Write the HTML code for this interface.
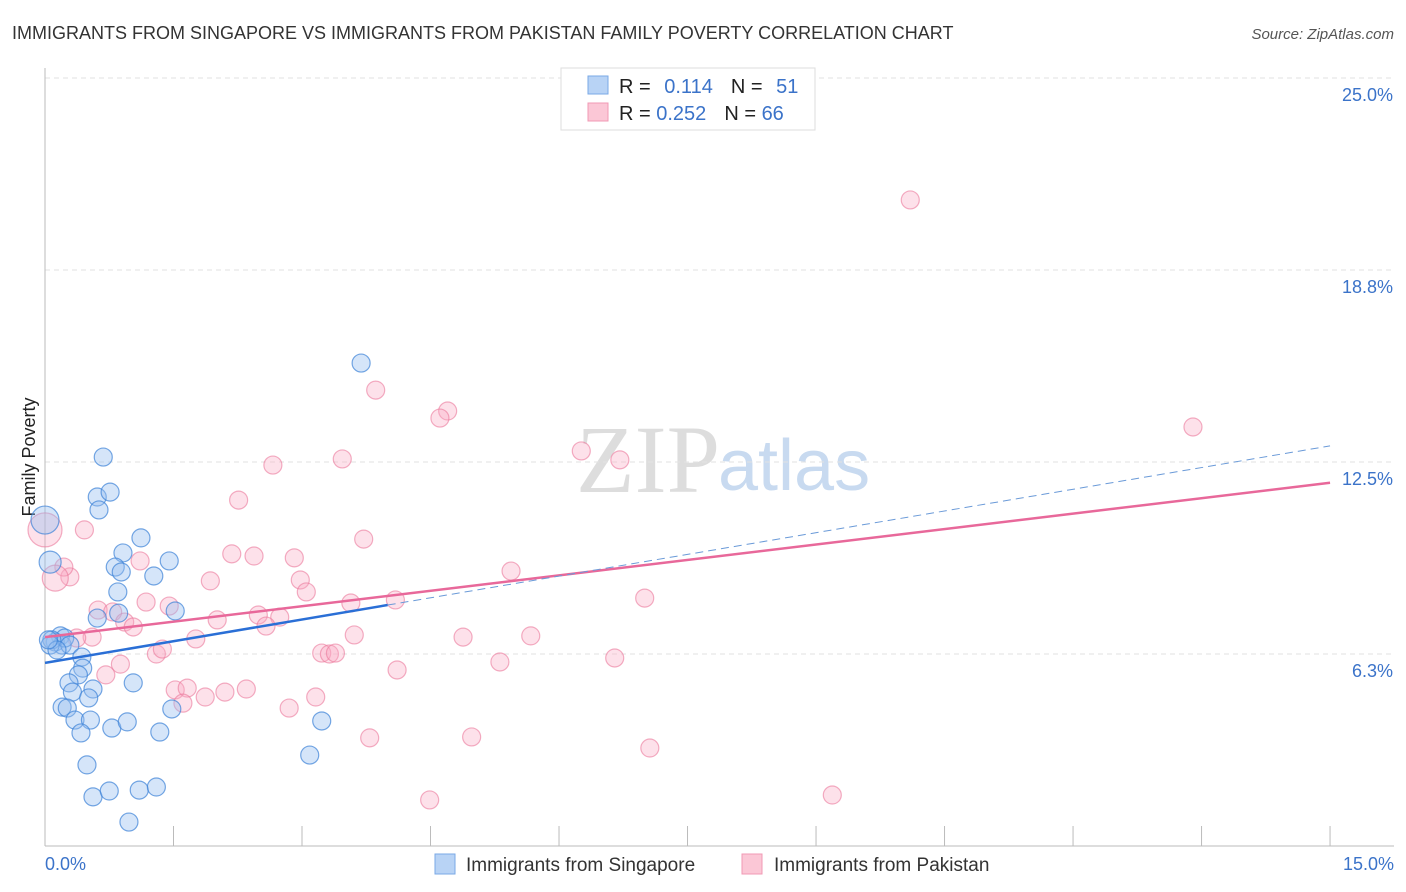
<!DOCTYPE html>
<html><head><meta charset="utf-8"><style>
body{margin:0;background:#fff;font-family:"Liberation Sans",sans-serif;}
#wrap{position:relative;width:1406px;height:892px;overflow:hidden;}
</style></head><body>
<div id="wrap">
<svg id="svg" width="1406" height="892" xmlns="http://www.w3.org/2000/svg">
<text x="12" y="39" font-size="18" fill="#333">IMMIGRANTS FROM SINGAPORE VS IMMIGRANTS FROM PAKISTAN FAMILY POVERTY CORRELATION CHART</text>
<text x="1394" y="39" font-size="15" fill="#555" font-style="italic" text-anchor="end">Source: ZipAtlas.com</text>
<text x="35" y="457" font-size="18" fill="#222" text-anchor="middle" transform="rotate(-90 35 457)">Family Poverty</text>
<text x="720" y="492" font-size="96" fill="#ddd" text-anchor="end" font-family="Liberation Serif">ZIP</text>
<text x="718" y="490" font-size="72" fill="#c8daf0">atlas</text>
<g id="grid"></g><g id="pts"></g><g id="lines"></g>
<g>
<rect x="561" y="68" width="254" height="62" fill="#fff" stroke="#ddd"/>
<rect x="588" y="76" width="20" height="18" fill="#b8d3f5" stroke="#7aa8e6"/>
<rect x="588" y="103" width="20" height="18" fill="#fbc7d6" stroke="#f09ab4"/>
<text x="619" y="93" font-size="20" fill="#222">R = <tspan fill="#3b73c9" dx="8">0.114</tspan><tspan dx="18" fill="#222">N = </tspan><tspan dx="8" fill="#3b73c9">51</tspan></text>
<text x="619" y="120" font-size="20" fill="#222">R = <tspan fill="#3b73c9">0.252</tspan><tspan dx="18" fill="#222">N = </tspan><tspan fill="#3b73c9">66</tspan></text>
</g>
<g>
<rect x="435" y="854" width="20" height="20" fill="#b8d3f5" stroke="#7aa8e6"/>
<text x="466" y="871" font-size="19" fill="#333">Immigrants from Singapore</text>
<rect x="742" y="854" width="20" height="20" fill="#fbc7d6" stroke="#f09ab4"/>
<text x="774" y="871" font-size="19" fill="#333">Immigrants from Pakistan</text>
</g>
</svg>
</div>
<script>
const yTicks=[6.25,12.5,18.75,25];
const yTickLabels=["6.3%","12.5%","18.8%","25.0%"];
const xTickCount=10;
const xLabels=["0.0%","15.0%"];
const sgX=[0.68,0.61,0.76,0.63,1.12,0.91,0.82,0.89,1.27,1.45,0.85,0.86,0.61,1.52,0.06,0.0,0.18,0.12,0.20,0.23,0.08,0.29,0.43,0.44,0.39,0.28,0.56,0.32,1.03,0.20,0.26,0.51,0.35,0.53,0.78,0.42,0.96,1.34,1.48,3.23,3.09,0.49,0.56,0.75,1.10,1.30,0.98,3.69,0.06,0.14,0.04];
const sgY=[12.66,11.36,11.52,10.94,10.03,9.54,9.08,8.92,8.79,9.28,8.27,7.58,7.42,7.65,9.24,10.61,6.84,6.64,6.54,6.77,6.71,6.54,6.15,5.79,5.57,5.31,5.11,5.01,5.31,4.52,4.49,4.82,4.10,4.10,3.84,3.68,4.04,3.71,4.46,4.07,2.96,2.64,1.60,1.79,1.82,1.92,0.78,15.72,6.54,6.38,6.71];
const pkX=[10.10,13.40,3.86,4.70,4.61,6.26,6.71,3.47,2.66,2.26,3.72,0.46,0,2.18,2.44,2.91,5.44,0.29,0.22,0.12,1.93,2.98,3.05,1.11,1.18,1.45,7.00,4.09,3.57,0.62,0.79,0.93,1.03,2.01,2.49,2.74,2.58,0.55,0.37,1.76,3.61,4.88,5.67,1.30,1.37,3.23,3.32,3.39,5.31,6.65,0.88,0.71,4.11,1.52,1.66,1.87,2.10,2.35,1.61,3.16,2.85,3.79,4.98,7.06,4.49,9.19];
const pkY=[21.03,13.64,14.84,14.16,13.93,12.86,12.57,12.60,12.40,11.26,9.99,10.29,10.29,9.51,9.44,9.38,8.95,8.76,9.08,8.72,8.63,8.66,8.27,9.28,7.94,7.81,8.07,8.01,7.91,7.68,7.62,7.29,7.13,7.36,7.52,7.45,7.16,6.80,6.77,6.74,6.87,6.80,6.84,6.25,6.41,6.28,6.25,6.28,5.99,6.12,5.92,5.57,5.73,5.08,5.14,4.85,5.01,5.11,4.65,4.85,4.49,3.52,3.55,3.19,1.50,1.66];
const sgTrend=[5.96,0.471,4.0];
const pkTrend=[6.80,0.335];
const NS="http://www.w3.org/2000/svg";
const X=v=>45+v*85.67, Y=v=>846-v*30.72;
function mk(t,a,p){const e=document.createElementNS(NS,t);for(const k in a)e.setAttribute(k,a[k]);p.appendChild(e);return e;}
const grid=document.getElementById('grid'),pts=document.getElementById('pts'),lines=document.getElementById('lines');
yTicks.forEach((t,i)=>{
 const l=mk('line',{x1:45,x2:1394,y1:Y(t),y2:Y(t),stroke:'#e2e2e2','stroke-dasharray':'5,4'},grid);
 
 
 const tx=mk('text',{x:1393,y:Y(t)+23,'font-size':18,fill:'#3b73c9','text-anchor':'end'},grid);
 tx.textContent=yTickLabels[i];
 
 
});
const ax=mk('line',{x1:45,x2:45,y1:68,y2:846,stroke:'#bbb'},grid);


const bx=mk('line',{x1:45,x2:1394,y1:846,y2:846,stroke:'#bbb'},grid);


for(let i=0;i<=xTickCount;i++){const xv=15*i/xTickCount;
 const t=mk('line',{x1:X(xv),x2:X(xv),y1:826,y2:846,stroke:'#bbb'},grid);
 
 }
[[0,'start',45],[15,'end',1394]].forEach((d,i)=>{
 const t=mk('text',{x:d[2],y:870,'font-size':18,fill:'#3b73c9','text-anchor':d[1]},grid);
 t.textContent=xLabels[i];
 
 });
function rad(x,y,big){return big?big:9;}
pkX.forEach((x,i)=>{let r=9;if(i==12)r=17;if(i==19)r=13;
 const c=mk('circle',{cx:X(x),cy:Y(pkY[i]),r:r,fill:'rgba(248,170,195,0.35)',stroke:'rgba(235,120,155,0.6)','stroke-width':1.2},pts);
 
 });
sgX.forEach((x,i)=>{let r=9;if(i==15)r=14;if(i==14)r=11;
 const c=mk('circle',{cx:X(x),cy:Y(sgY[i]),r:r,fill:'rgba(150,190,240,0.4)',stroke:'rgba(60,130,215,0.7)','stroke-width':1.2},pts);
 
 });
const pl=mk('line',{x1:X(0),y1:Y(pkTrend[0]),x2:X(15),y2:Y(pkTrend[0]+pkTrend[1]*15),stroke:'#e8689a','stroke-width':2.5},lines);


const bl=mk('line',{x1:X(0),y1:Y(sgTrend[0]),x2:X(sgTrend[2]),y2:Y(sgTrend[0]+sgTrend[1]*sgTrend[2]),stroke:'#2a6fd6','stroke-width':2.5},lines);


const bd=mk('line',{x1:X(sgTrend[2]),y1:Y(sgTrend[0]+sgTrend[1]*sgTrend[2]),x2:X(15),y2:Y(sgTrend[0]+sgTrend[1]*15),stroke:'#6a9ad8','stroke-width':1,'stroke-dasharray':'8,5'},lines);


</script>
</body></html>
